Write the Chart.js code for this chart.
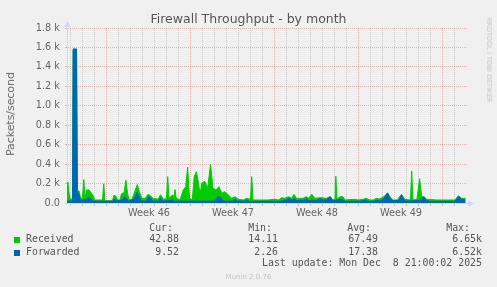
<!DOCTYPE html>
<html>
<head>
<meta charset="utf-8">
<script src="https://cdn.jsdelivr.net/npm/chart.js"></script>
<style>
  html, body { margin: 0; padding: 0; background: #f0f0f0; }
  #wrap { position: relative; width: 497px; height: 287px; overflow: hidden; background: #f0f0f0; }
  #wrap canvas { position: absolute; left: 0; top: 0; }
  .t { position: absolute; white-space: pre; color: #666; font-family: 'DejaVu Sans'; line-height: 12px; }
  .m { font-family: 'DejaVu Sans Mono'; font-size: 9.9px; color: #555; }
</style>
</head>
<body>
<div id="wrap">
  <canvas id="chart" width="497" height="287"></canvas>
</div>
<script>
// days counted from Nov 1 00:00 (graph spans Nov 5 16:00 .. Dec 9 00:00)
const rcvDays = [4.67, 4.75, 4.86, 4.94, 5.13, 5.18, 5.46, 5.53, 5.69, 5.79, 5.96, 6.07, 6.17, 6.29, 6.50, 6.71, 6.83, 6.96,
  7.63, 7.73, 7.83, 8.46, 8.58, 8.75, 8.88, 9.08, 9.21, 9.42, 9.58, 9.71, 9.86, 10.08, 10.31, 10.53, 10.69, 10.92,
  11.19, 11.42, 11.63, 11.81, 12.25, 12.46, 12.71, 12.96, 13.06, 13.17, 13.39, 13.61, 13.67, 13.77, 14.08, 14.36,
  14.56, 14.72, 14.88, 15.11, 15.27, 15.44, 15.61, 15.75, 15.92, 16.17, 16.38, 16.63, 16.83, 17.08, 17.33, 17.56,
  17.83, 18.11, 18.39, 18.67, 18.94, 19.36, 19.64, 19.96, 20.06, 20.17, 21.42, 21.92, 22.33, 22.53, 22.81, 23.14,
  23.38, 23.58, 23.78, 24.33, 24.61, 24.79, 25.07, 25.31, 25.81, 26.28, 26.56, 26.83, 27.00, 27.07, 27.17, 27.42,
  27.67, 27.83, 28.64, 28.92, 29.33, 29.61, 29.92, 30.19, 30.46, 30.67, 31.08, 31.38, 31.58, 31.86, 32.17, 32.54,
  32.83, 33.29, 33.39, 33.50, 33.83, 34.05, 34.23, 34.42, 34.64, 35.48, 37.00, 37.28, 37.56, 37.88];
const rcvValues = [213, 200, 82, 38, 45, 1570, 1570, 127, 120, 48, 48, 240, 48, 134, 134, 100, 80, 31,
  31, 198, 24, 24, 80, 70, 31, 31, 95, 106, 235, 100, 31, 38, 117, 190, 117, 48,
  48, 90, 75, 48, 40, 85, 38, 45, 271, 48, 75, 80, 138, 48, 31, 134,
  168, 370, 48, 31, 271, 322, 219, 90, 210, 220, 150, 395, 151, 134, 168, 100,
  117, 82, 48, 65, 38, 31, 48, 38, 271, 31, 31, 38, 31, 55, 48, 65,
  48, 89, 48, 48, 65, 48, 89, 48, 55, 48, 65, 31, 40, 275, 40, 65,
  65, 31, 38, 31, 38, 48, 31, 31, 48, 40, 65, 106, 65, 31, 31, 89,
  38, 31, 330, 31, 38, 250, 65, 65, 38, 31, 31, 75, 48, 48];

const fwdDays = [4.67, 5.13, 5.18, 5.46, 5.53, 5.67, 5.79, 6.29, 6.46, 6.63, 6.83, 8.46, 8.63, 8.79, 9.25, 9.42, 9.63, 9.79,
  10.25, 10.50, 10.71, 10.88, 11.25, 11.46, 11.63, 11.79, 12.33, 12.46, 12.63, 13.25, 13.42, 13.58, 17.00, 17.25,
  17.46, 17.67, 18.50, 18.67, 18.83, 19.50, 19.67, 19.83, 22.42, 22.92, 23.17, 23.42, 23.63, 23.79, 24.50, 24.63,
  24.79, 25.42, 25.79, 26.00, 26.29, 26.63, 26.83, 27.42, 27.63, 27.83, 29.25, 29.58, 29.75, 30.25, 30.50, 30.75,
  31.08, 31.38, 31.54, 31.75, 32.33, 32.54, 32.71, 32.88, 34.00, 34.23, 34.42, 34.63, 34.92, 37.00, 37.28, 37.56, 37.88];
const fwdValues = [20, 20, 1585, 1585, 110, 95, 24, 40, 60, 45, 20, 17, 45, 20, 30, 65, 45, 17,
  40, 110, 60, 20, 20, 65, 55, 20, 20, 50, 20, 25, 35, 20, 20, 70,
  60, 20, 20, 38, 20, 20, 31, 17, 17, 30, 48, 30, 48, 25, 30, 48,
  25, 25, 45, 30, 35, 65, 20, 40, 35, 17, 20, 31, 17, 17, 31, 20,
  48, 100, 55, 25, 25, 82, 40, 20, 25, 48, 58, 25, 17, 17, 65, 35, 31];

const weekMids = [11.5, 18.5, 25.5, 32.5];
const weekLabels = ['Week 46', 'Week 47', 'Week 48', 'Week 49'];

const legendNames = ['Received', 'Forwarded'];
const curValues = ['42.88', '9.52'];
const minValues = ['14.11', '2.26'];
const avgValues = ['67.49', '17.38'];
const maxValues = ['6.65k', '6.52k'];
const lastUpdate = 'Last update: Mon Dec  8 21:00:02 2025';

const colors = ['#00CC00', '#0066B3'];
const MINOR = 'rgba(143,143,143,0.4)';
const MAJOR = 'rgba(222,79,79,0.38)';
const AXIS = '#CFD6F8';

function pts(xs, ys) {
    return xs.map((x, i) => ({x: x, y: ys[i]}));
}

const arrows = {
    id: 'arrows',
    afterDraw(chart) {
        const ctx = chart.ctx;
        const a = chart.chartArea;
        ctx.save();
        ctx.fillStyle = AXIS;
        ctx.beginPath();
        ctx.moveTo(a.left - 2.5, a.top - 1);
        ctx.lineTo(a.left + 3.5, a.top - 1);
        ctx.lineTo(a.left + 0.5, a.top - 7);
        ctx.closePath();
        ctx.fill();
        ctx.beginPath();
        ctx.moveTo(a.right + 1, a.bottom - 2.5);
        ctx.lineTo(a.right + 1, a.bottom + 3.5);
        ctx.lineTo(a.right + 7, a.bottom + 0.5);
        ctx.closePath();
        ctx.fill();
        ctx.restore();
    }
};

Chart.defaults.font.family = "'DejaVu Sans'";
Chart.defaults.color = '#666';

new Chart(document.getElementById('chart'), {
    type: 'line',
    data: {
        datasets: [
            {
                label: 'Received',
                data: pts(rcvDays, rcvValues),
                backgroundColor: colors[0],
                borderColor: colors[0],
                borderWidth: 1,
                fill: 'origin',
                pointRadius: 0,
                tension: 0,
                order: 1,
            },
            {
                label: 'Forwarded',
                data: pts(fwdDays, fwdValues),
                backgroundColor: colors[1],
                borderColor: colors[1],
                borderWidth: 1,
                fill: 'origin',
                pointRadius: 0,
                tension: 0,
                order: 0,
            },
        ]
    },
    options: {
        responsive: false,
        animation: false,
        devicePixelRatio: 1,
        layout: { padding: { top: 28, right: 30, left: 0, bottom: 0 } },
        plugins: { legend: { display: false }, title: { display: false }, tooltip: { enabled: false } },
        scales: {
            x: {
                type: 'linear',
                min: 4.667,
                max: 38,
                afterBuildTicks: axis => {
                    const t = [];
                    for (let d = 5; d <= 37; d++) t.push({value: d});
                    weekMids.forEach(v => t.push({value: v}));
                    t.sort((a, b) => a.value - b.value);
                    axis.ticks = t;
                },
                afterFit: s => { s.height = 84; },
                ticks: {
                    autoSkip: false,
                    maxRotation: 0,
                    minRotation: 0,
                    padding: 2,
                    font: { size: 9.72 },
                    color: '#666',
                    callback: v => {
                        const i = weekMids.indexOf(v);
                        return i >= 0 ? weekLabels[i] : '';
                    }
                },
                grid: {
                    color: c => !Number.isInteger(c.tick.value) ? 'transparent' : ((c.tick.value - 8) % 7 === 0 ? MAJOR : MINOR),
                    tickColor: c => !Number.isInteger(c.tick.value) ? 'transparent' : '#c0c0c0',
                    tickLength: 3,
                    lineWidth: 1,
                },
                border: { color: AXIS, dash: [1, 1] },
            },
            y: {
                min: 0,
                max: 1800,
                afterFit: s => { s.width = 67; },
                ticks: {
                    stepSize: 100,
                    padding: 5,
                    font: { size: 9.72 },
                    color: '#666',
                    callback: v => v % 200 !== 0 ? '' : (v === 0 ? '0.0' : (v / 1000).toFixed(1) + ' k')
                },
                grid: {
                    color: c => c.tick.value % 200 === 0 ? MAJOR : MINOR,
                    tickColor: '#c0c0c0',
                    tickLength: 2,
                    lineWidth: 1,
                },
                border: { color: AXIS, dash: [1, 1] },
            }
        }
    },
    plugins: [arrows]
});

// text around the graph, rrdtool style
const wrap = document.getElementById('wrap');
function addText(text, css, cls) {
    const d = document.createElement('div');
    d.className = 't' + (cls ? ' ' + cls : '');
    d.textContent = text;
    Object.assign(d.style, css);
    wrap.appendChild(d);
    return d;
}

addText('Firewall Throughput - by month', {left: '0px', width: '497px', top: '12px', textAlign: 'center', fontSize: '12.5px', lineHeight: '14px', color: '#555'});
addText('Packets/second', {left: '11px', top: '114px', fontSize: '10.9px', transform: 'translate(-50%,-50%) rotate(-90deg)'});
addText('RRDTOOL / TOBI OETIKER', {left: '488.5px', top: '60px', fontSize: '6.6px', color: '#c4c4c4', transform: 'translate(-50%,-50%) rotate(90deg)'});

const colRight = [179, 278, 378, 482];
const headers = ['Cur:', 'Min:', 'Avg:', 'Max:'];
const headRight = [173, 272, 371, 470];
headers.forEach((h, i) => addText(h, {right: (497 - headRight[i]) + 'px', top: '221.5px'}, 'm'));

const rowTop = [233.4, 245.7];
legendNames.forEach((name, r) => {
    const sq = document.createElement('div');
    Object.assign(sq.style, {position: 'absolute', left: '14px', top: (rowTop[r] + 3.8) + 'px', width: '6px', height: '6px', background: colors[r]});
    wrap.appendChild(sq);
    addText(name, {left: '26px', top: rowTop[r] + 'px'}, 'm');
    [curValues, minValues, avgValues, maxValues].forEach((col, i) => {
        addText(col[r], {right: (497 - colRight[i]) + 'px', top: rowTop[r] + 'px'}, 'm');
    });
});
addText(lastUpdate, {right: (497 - 482) + 'px', top: '257.2px'}, 'm');
addText('Munin 2.0.76', {left: '0px', width: '497px', top: '270.5px', textAlign: 'center', fontSize: '7px', color: '#c4c4c4'});
</script>
</body>
</html>
